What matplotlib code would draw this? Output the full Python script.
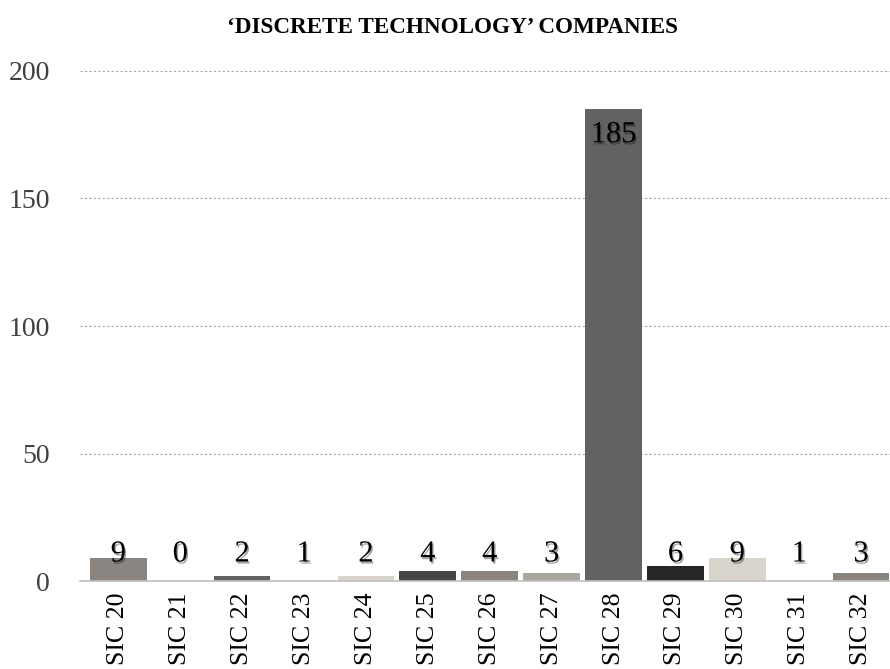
import matplotlib
matplotlib.use("Agg")
import matplotlib.pyplot as plt
import matplotlib.patheffects as pe

categories = ["SIC 20", "SIC 21", "SIC 22", "SIC 23", "SIC 24", "SIC 25", "SIC 26",
              "SIC 27", "SIC 28", "SIC 29", "SIC 30", "SIC 31", "SIC 32"]
companies = [9, 0, 2, 1, 2, 4, 4, 3, 185, 6, 9, 1, 3]
bar_colors = ["#8a8580", "#ffffff", "#626262", "#ffffff", "#d9d4cc", "#464646", "#8a8580",
              "#aaa6a0", "#626262", "#262626", "#d9d4cc", "#ffffff", "#8a8580"]
y_ticks = [0, 50, 100, 150, 200]
title = "\u2018DISCRETE TECHNOLOGY\u2019 COMPANIES"

plt.rcParams["font.family"] = ["Liberation Serif", "DejaVu Serif"]

fig = plt.figure(figsize=(8.9, 6.69), dpi=100)
ax = fig.add_axes([0.0899, 0.1315, 0.9101, 0.7624])

x = range(len(categories))
ax.bar(x, companies, width=0.916, color=bar_colors, zorder=3)

ax.set_ylim(0, 200)
ax.set_xlim(-0.619, 12.467)
ax.set_yticks(y_ticks)
ax.yaxis.grid(True, linestyle=(0, (2, 2)), color="#a6a6a6", linewidth=0.8, zorder=0)
ax.set_axisbelow(True)

for side in ("left", "right", "top"):
    ax.spines[side].set_visible(False)
ax.spines["bottom"].set_color("#bfbfbf")
ax.spines["bottom"].set_linewidth(1.2)
ax.spines["bottom"].set_zorder(4)

ax.tick_params(axis="y", length=0, pad=21.5, labelsize=20, labelcolor="#404040")
ax.tick_params(axis="x", length=0, pad=8, labelsize=18.6, labelcolor="#000000")
ax.set_xticks(list(x))
ax.set_xticklabels(categories, rotation=90, va="top")

shadow = [pe.withSimplePatchShadow(offset=(1, -1.5), shadow_rgbFace="#000000", alpha=0.35)]
for i, v in enumerate(companies):
    ypos = max(v - 10, 10.6)
    ax.text(i, ypos, str(v), ha="center", va="center", fontsize=22,
            color="#000000", zorder=5, path_effects=shadow)

fig.text(0.5084, 0.959, title, ha="center", va="center", fontsize=16.7,
         fontweight="bold", color="#000000")

fig.savefig("out.png", dpi=100)
